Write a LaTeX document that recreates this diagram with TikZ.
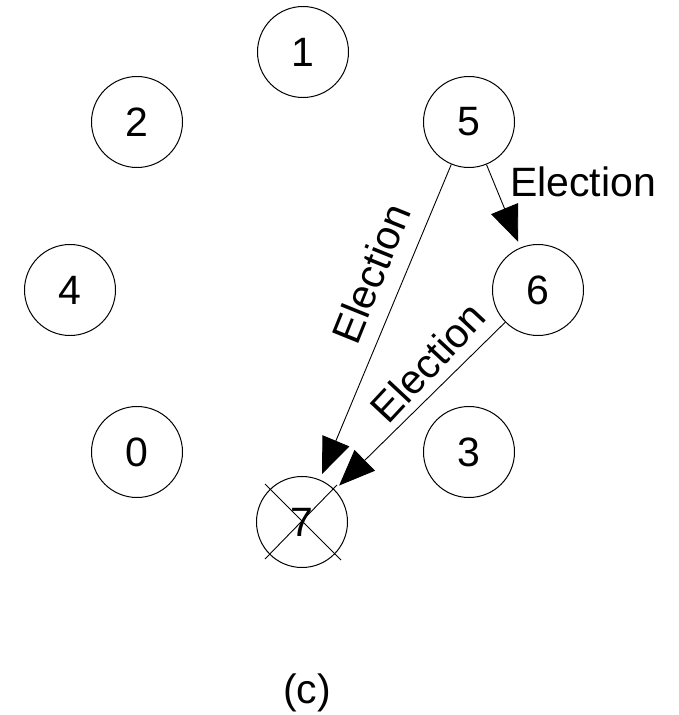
\documentclass[tikz,border=0pt]{standalone}
\usepackage{fontspec}
\setmainfont{Liberation Sans}
\usetikzlibrary{arrows.meta}
\begin{document}
\begin{tikzpicture}[x=1pt,y=-1pt,
  proc/.style={draw, circle, line width=1pt, minimum size=91pt, inner sep=0pt, font=\fontsize{41}{43}\selectfont},
  msg/.style={line width=0.9pt, -{Triangle[length=36pt,width=29pt]}, shorten >=6pt},
  lbl/.style={font=\fontsize{41}{43}\selectfont, inner sep=0pt}]
\useasboundingbox (0,0) rectangle (679,715);
\node[proc] (n1) at (303,52) {1};
\node[proc] (n2) at (137,122) {2};
\node[proc] (n5) at (469,122) {5};
\node[proc] (n4) at (70,290) {4};
\node[proc] (n6) at (538,290) {6};
\node[proc] (n0) at (137,452) {0};
\node[proc] (n3) at (469,452) {3};
\node[proc] (n7) at (302,522) {7};
\draw[line width=0.9pt] ([shift={(-37,-38)}]n7.center) -- ([shift={(39,38)}]n7.center);
\draw[line width=0.9pt] ([shift={(35,-37)}]n7.center) -- ([shift={(-37,37)}]n7.center);
\draw[msg] (n5) -- (n6);
\draw[msg] (n5) -- (n7);
\draw[msg] (n6) -- (n7);
\node[lbl] (e1) at (583,182) {Election};
\node[lbl, rotate=68] (e2) at (371,273) {Election};
\node[lbl, rotate=47] (e3) at (428,362) {Election};
\node[lbl] (cap) at (307,693) {(c)};
\end{tikzpicture}
\end{document}
